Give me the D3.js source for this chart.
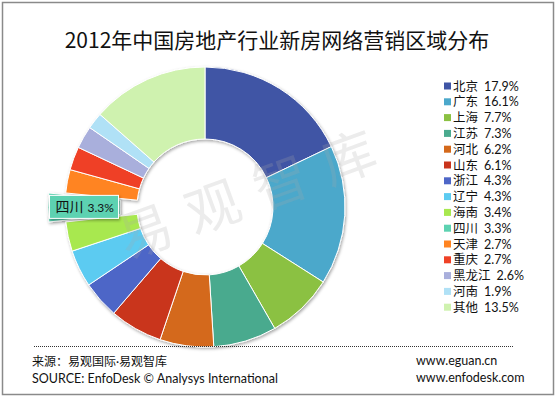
<!DOCTYPE html>
<meta charset="utf-8">
<style>
body { margin: 0; background: #fff; }
text { font-family: Lato, "Noto Sans CJK SC", sans-serif; }
.slice { stroke: #fff; stroke-width: 1; }
.legend text { font-size: 12.5px; fill: #111; }
.foot { font-size: 12.5px; fill: #111; }
</style>
<body>
<script src="https://d3js.org/d3.v7.min.js"></script>
<script>
// regions + share (%)
var regions = ["北京", "广东", "上海", "江苏", "河北", "山东", "浙江", "辽宁", "海南", "四川", "天津", "重庆", "黑龙江", "河南", "其他"];
var shares = [17.9, 16.1, 7.7, 7.3, 6.2, 6.1, 4.3, 4.3, 3.4, 3.3, 2.7, 2.7, 2.6, 1.9, 13.5];
var colors = ["#3f55a5", "#4ba8cb", "#8bc142", "#4aaa8e", "#d4691b", "#c9341c", "#4e66c7", "#5ccbf1",
              "#a8e84f", "#5dd2b1", "#ff8421", "#ef4126", "#a9afdc", "#b0e1f6", "#cff2af"];
var highlight = "四川";  // the pulled-out slice with its label

var title = "2012年中国房地产行业新房网络营销区域分布";
var sourceCn = "来源：易观国际·易观智库";
var sourceEn = "SOURCE:  EnfoDesk © Analysys International";
var sites = ["www.eguan.cn", "www.enfodesk.com"];

var width = 557, height = 398;
var cx = 205, cy = 207, outerR = 140, innerR = 68;

var svg = d3.select("body").append("svg")
    .attr("width", width)
    .attr("height", height);

var defs = svg.append("defs");
var shadow = defs.append("filter").attr("id", "shadow")
    .attr("x", "-20%").attr("y", "-20%").attr("width", "140%").attr("height", "140%");
shadow.append("feDropShadow")
    .attr("dx", 1).attr("dy", 1.5).attr("stdDeviation", 1.5)
    .attr("flood-color", "#000").attr("flood-opacity", 0.35);

// outer frame
svg.append("rect")
    .attr("x", 2.5).attr("y", 2.5)
    .attr("width", 551).attr("height", 392)
    .attr("fill", "#fff")
    .attr("stroke", "#8a8a8a")
    .attr("stroke-width", 1.5);

svg.append("text")
    .attr("x", 277).attr("y", 48)
    .attr("text-anchor", "middle")
    .style("font-family", "'Noto Sans CJK SC', sans-serif")
    .style("font-size", "21px")
    .attr("fill", "#111")
    .text(title);

var data = regions.map(function(r, i) { return {name: r, value: shares[i], color: colors[i]}; });

var pie = d3.pie().sort(null).value(function(d) { return d.value; });
var arc = d3.arc().innerRadius(innerR).outerRadius(outerR);
var arcs = pie(data);

var g = svg.append("g")
    .attr("transform", "translate(" + cx + "," + cy + ")")
    .attr("filter", "url(#shadow)");

g.selectAll(".slice")
    .data(arcs)
  .enter().append("path")
    .attr("class", "slice")
    .attr("fill", function(d) { return d.data.color; })
    .attr("d", arc)
    .attr("transform", function(d) {
      if (d.data.name != highlight) return null;
      // explode along the bisector
      var a = (d.startAngle + d.endAngle) / 2;
      return "translate(" + (17 * Math.sin(a)) + "," + (-17 * Math.cos(a)) + ")";
    });

// label box over the exploded slice
var hl = arcs.filter(function(d) { return d.data.name == highlight; })[0];
var hlMid = (hl.startAngle + hl.endAngle) / 2;
var boxR = (innerR + outerR) / 2 + 17;
var bx = cx + boxR * Math.sin(hlMid), by = cy - boxR * Math.cos(hlMid);
var lab = svg.append("g").attr("transform", "translate(" + bx + "," + by + ")");
lab.append("rect")
    .attr("x", -34.5).attr("y", -12)
    .attr("width", 69).attr("height", 23)
    .attr("fill", hl.data.color)
    .attr("stroke", "#fff")
    .attr("filter", "url(#shadow)");
lab.append("text")
    .attr("x", -28.5).attr("y", 5)
    .style("font-size", "14px")
    .attr("fill", "#111")
    .text(hl.data.name)
  .append("tspan")
    .attr("dx", 4)
    .style("font-size", "12px")
    .text(hl.data.value.toFixed(1) + "%");

// watermark
svg.append("text")
    .attr("transform", "translate(262,210) rotate(-20)")
    .attr("text-anchor", "middle")
    .style("font-family", "'Noto Sans CJK SC', sans-serif")
    .style("font-size", "54px")
    .style("letter-spacing", "18px")
    .attr("fill", "#aaa")
    .attr("fill-opacity", 0.22)
    .text("易观智库");

// legend
var legend = svg.append("g").attr("class", "legend");
var row = legend.selectAll("g")
    .data(data)
  .enter().append("g")
    .attr("transform", function(d, i) { return "translate(444," + (86 + i * 15.8) + ")"; });
row.append("rect")
    .attr("x", 0).attr("y", -3.5)
    .attr("width", 7).attr("height", 7)
    .attr("fill", function(d) { return d.color; });
row.append("text")
    .attr("x", 9).attr("y", 4.5)
    .text(function(d) { return d.name; })
  .append("tspan")
    .attr("dx", 6)
    .text(function(d) { return d.value.toFixed(1) + "%"; });

// footer
svg.append("line")
    .attr("x1", 34).attr("x2", 514)
    .attr("y1", 346.5).attr("y2", 346.5)
    .attr("stroke", "#333")
    .attr("stroke-dasharray", "1,1");

svg.append("text").attr("class", "foot")
    .attr("x", 32).attr("y", 366)
    .style("font-size", "12px")
    .text(sourceCn);
svg.append("text").attr("class", "foot")
    .attr("x", 32).attr("y", 383)
    .text(sourceEn);
svg.selectAll(".site")
    .data(sites)
  .enter().append("text")
    .attr("class", "foot site")
    .attr("x", 416)
    .attr("y", function(d, i) { return 365 + i * 17; })
    .text(function(d) { return d; });
</script>
</body>
